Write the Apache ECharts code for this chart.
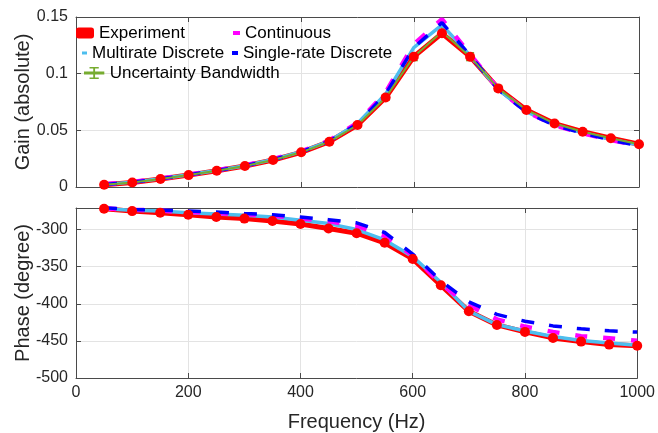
<!DOCTYPE html>
<html>
<head>
<meta charset="utf-8">
<script src="https://cdn.jsdelivr.net/npm/echarts@6/dist/echarts.min.js"></script>
<style>html,body{margin:0;padding:0;background:#fff}#c{width:658px;height:433px}</style>
</head>
<body>
<div id="c"></div>
<script>
const freq = [50,100,150,200,250,300,350,400,450,500,550,600,650,700,750,800,850,900,950,1000];
const xTicks = [0,200,400,600,800,1000];
const gainTicks = [0,0.05,0.1,0.15];
const phaseTicks = [-500,-450,-400,-350,-300];

const gainExp  = [0.002,0.004,0.007,0.0105,0.0143,0.0185,0.0238,0.0306,0.040,0.0547,0.079,0.115,0.1356,0.115,0.087,0.068,0.056,0.0488,0.043,0.0377];
const gainCont = [0.0025,0.0045,0.0075,0.011,0.0148,0.019,0.0245,0.0315,0.041,0.0565,0.0835,0.126,0.148,0.117,0.0865,0.0665,0.0545,0.0475,0.0415,0.0365];
const gainMulti= [0.0023,0.0043,0.0073,0.0108,0.0146,0.0188,0.0242,0.0312,0.0405,0.056,0.082,0.123,0.143,0.116,0.086,0.0665,0.0548,0.0478,0.042,0.037];
const gainSingle=[0.0022,0.0042,0.0072,0.0107,0.0145,0.0187,0.024,0.031,0.0403,0.0557,0.082,0.123,0.145,0.116,0.086,0.066,0.0545,0.0475,0.0415,0.0362];
const gainUnc  = [0.002,0.004,0.007,0.0105,0.0143,0.0185,0.0238,0.0306,0.040,0.0547,0.079,0.115,0.137,0.115,0.087,0.068,0.056,0.0488,0.043,0.0377];
const gainErr  = [0.0008,0.0008,0.0009,0.001,0.001,0.0011,0.0012,0.0013,0.0015,0.0018,0.0025,0.0035,0.004,0.0035,0.0026,0.002,0.0017,0.0015,0.0014,0.0013];

const phaseExp   = [-272,-275.2,-277.3,-280,-283.2,-285.3,-288.5,-292.5,-298.7,-305,-317.9,-339.6,-375,-410,-428.5,-437.9,-446,-451,-455,-456.5];
const phaseCont  = [-271.5,-273.3,-274.5,-276.5,-278,-279.5,-281.5,-285,-289,-295,-308.5,-335,-373,-402,-421,-430.7,-437.9,-443.6,-446.3,-449.8];
const phaseMulti = [-272,-273.9,-275.2,-277.3,-279.2,-280.9,-283.2,-287.6,-292,-300,-314,-336.5,-371,-410,-428,-436.7,-444,-449.5,-453,-456];
const phaseSingle= [-270.7,-273,-273.9,-275.2,-276.5,-278.3,-280,-283.2,-286.7,-291,-304,-333,-369,-397.5,-414.3,-423.6,-429.8,-433.8,-436.5,-438.2];

const FONT = 'Liberation Sans';
const AX = '#4a4a4a';
const TXT = '#262626';
const pairs = (ys) => freq.map((f, i) => [f, ys[i]]);
const plain = (v) => String(v);

function xAx(grid, pos, labels, name) {
  return {
    gridIndex: grid, type: 'value', position: pos,
    min: xTicks[0], max: xTicks[xTicks.length - 1], interval: xTicks[1] - xTicks[0],
    axisLine: { show: true, onZero: false, lineStyle: { color: AX, width: 1 } },
    axisTick: { show: true, inside: true, length: 5, lineStyle: { color: AX } },
    axisLabel: { show: labels, color: TXT, fontSize: 16, fontFamily: FONT, margin: 7, formatter: plain },
    splitLine: { show: pos === 'bottom', lineStyle: { color: '#e3e3e3', width: 1 } },
    name: name || '', nameLocation: 'middle', nameGap: 34, nameMoveOverlap: false,
    nameTextStyle: { color: TXT, fontSize: 20, fontFamily: FONT }
  };
}
function yAx(grid, pos, ticks, max, labels, name) {
  return {
    gridIndex: grid, type: 'value', position: pos,
    min: ticks[0], max: max, interval: ticks[1] - ticks[0],
    axisLine: { show: true, onZero: false, lineStyle: { color: AX, width: 1 } },
    axisTick: { show: true, inside: true, length: 5, lineStyle: { color: AX } },
    axisLabel: { show: labels, color: TXT, fontSize: 16, fontFamily: FONT, margin: 8, formatter: plain, showMaxLabel: max === ticks[ticks.length - 1] },
    splitLine: { show: pos === 'left', lineStyle: { color: '#e3e3e3', width: 1 } },
    name: name || '', nameLocation: 'middle', nameGap: 43, nameMoveOverlap: false,
    nameTextStyle: { color: TXT, fontSize: 20, fontFamily: FONT }
  };
}

const RED = '#ff0000', MAG = '#ff00ff', CYAN = '#4dbeee', BLUE = '#0000ff', GREEN = '#77ac30';

const errData = freq.map((f, i) => [f, gainUnc[i] - gainErr[i], gainUnc[i] + gainErr[i]]);

function lineS(name, data, color, width, dash, xi, yi, extra) {
  return Object.assign({
    name: name, type: 'line', xAxisIndex: xi, yAxisIndex: yi, data: data,
    showSymbol: false, symbol: 'none',
    lineStyle: { color: color, width: width, type: dash || 'solid' },
    itemStyle: { color: color }, animation: false
  }, extra || {});
}

const expExtra = { symbol: 'circle', symbolSize: 10, showSymbol: true, itemStyle: { color: RED } };

const legendCommon = {
  orient: 'horizontal', padding: 0, itemGap: 0,
  textStyle: { color: '#000', fontSize: 17, fontFamily: FONT, lineHeight: 20 }
};
const ebIcon = 'path://M0,5H22V8H0Z M10,0H12V13H10Z M6,0H16V1.5H6Z M6,11.5H16V13H6Z';

const option = {
  backgroundColor: '#fff',
  animation: false,
  grid: [
    { left: 76, right: 19, top: 17, height: 170, show: false },
    { left: 76, right: 19, top: 208, height: 171, show: false }
  ],
  xAxis: [ xAx(0, 'bottom', false), xAx(0, 'top', false), xAx(1, 'bottom', true, 'Frequency (Hz)'), xAx(1, 'top', false) ],
  yAxis: [
    yAx(0, 'left', gainTicks, gainTicks[gainTicks.length - 1], true, 'Gain (absolute)'),
    yAx(0, 'right', gainTicks, gainTicks[gainTicks.length - 1], false),
    yAx(1, 'left', phaseTicks, -271, true, 'Phase (degree)'),
    yAx(1, 'right', phaseTicks, -271, false)
  ],
  legend: [
    Object.assign({}, legendCommon, { left: 76, top: 23, itemWidth: 18, itemHeight: 11, data: [{ name: 'Experiment', icon: 'roundRect', itemStyle: { color: RED } }] }),
    Object.assign({}, legendCommon, { left: 233, top: 23, itemWidth: 7, itemHeight: 4, data: [{ name: 'Continuous', icon: 'rect', itemStyle: { color: MAG } }] }),
    Object.assign({}, legendCommon, { left: 82, top: 43, itemWidth: 5, itemHeight: 3, data: [{ name: 'Multirate Discrete', icon: 'rect', itemStyle: { color: CYAN } }] }),
    Object.assign({}, legendCommon, { left: 232, top: 43, itemWidth: 6, itemHeight: 4, data: [{ name: 'Single-rate Discrete', icon: 'rect', itemStyle: { color: BLUE } }] }),
    Object.assign({}, legendCommon, { left: 84, top: 63, itemWidth: 21, itemHeight: 12, data: [{ name: 'Uncertainty Bandwidth', icon: ebIcon, itemStyle: { color: GREEN } }] })
  ],
  series: [
    lineS('Experiment', pairs(gainExp), RED, 5, 'solid', 0, 0, expExtra),
    lineS('Multirate Discrete', pairs(gainMulti), CYAN, 3.5, 'solid', 0, 0),
    lineS('Continuous', pairs(gainCont), MAG, 4.5, [12, 16], 0, 0),
    lineS('Single-rate Discrete', pairs(gainSingle), BLUE, 3.5, [13, 15], 0, 0),
    lineS('Uncertainty Bandwidth', pairs(gainUnc), GREEN, 2, 'solid', 0, 0),
    {
      type: 'custom', xAxisIndex: 0, yAxisIndex: 0, data: errData, animation: false,
      renderItem: function (params, api) {
        const x = api.value(0);
        const lo = api.coord([x, api.value(1)]);
        const hi = api.coord([x, api.value(2)]);
        const w = 4;
        const st = { stroke: GREEN, lineWidth: 1.4, fill: null };
        return { type: 'group', children: [
          { type: 'line', shape: { x1: lo[0], y1: lo[1], x2: hi[0], y2: hi[1] }, style: st },
          { type: 'line', shape: { x1: lo[0] - w, y1: lo[1], x2: lo[0] + w, y2: lo[1] }, style: st },
          { type: 'line', shape: { x1: hi[0] - w, y1: hi[1], x2: hi[0] + w, y2: hi[1] }, style: st }
        ] };
      }
    },
    lineS('Experiment', pairs(phaseExp), RED, 5, 'solid', 2, 2, expExtra),
    lineS('Multirate Discrete', pairs(phaseMulti), CYAN, 3.5, 'solid', 2, 2),
    lineS('Continuous', pairs(phaseCont), MAG, 4.5, [12, 16], 2, 2),
    lineS('Single-rate Discrete', pairs(phaseSingle), BLUE, 3.5, [13, 15], 2, 2)
  ]
};

const chart = echarts.init(document.getElementById('c'), null, { renderer: 'canvas' });
chart.setOption(option);
</script>
</body>
</html>
